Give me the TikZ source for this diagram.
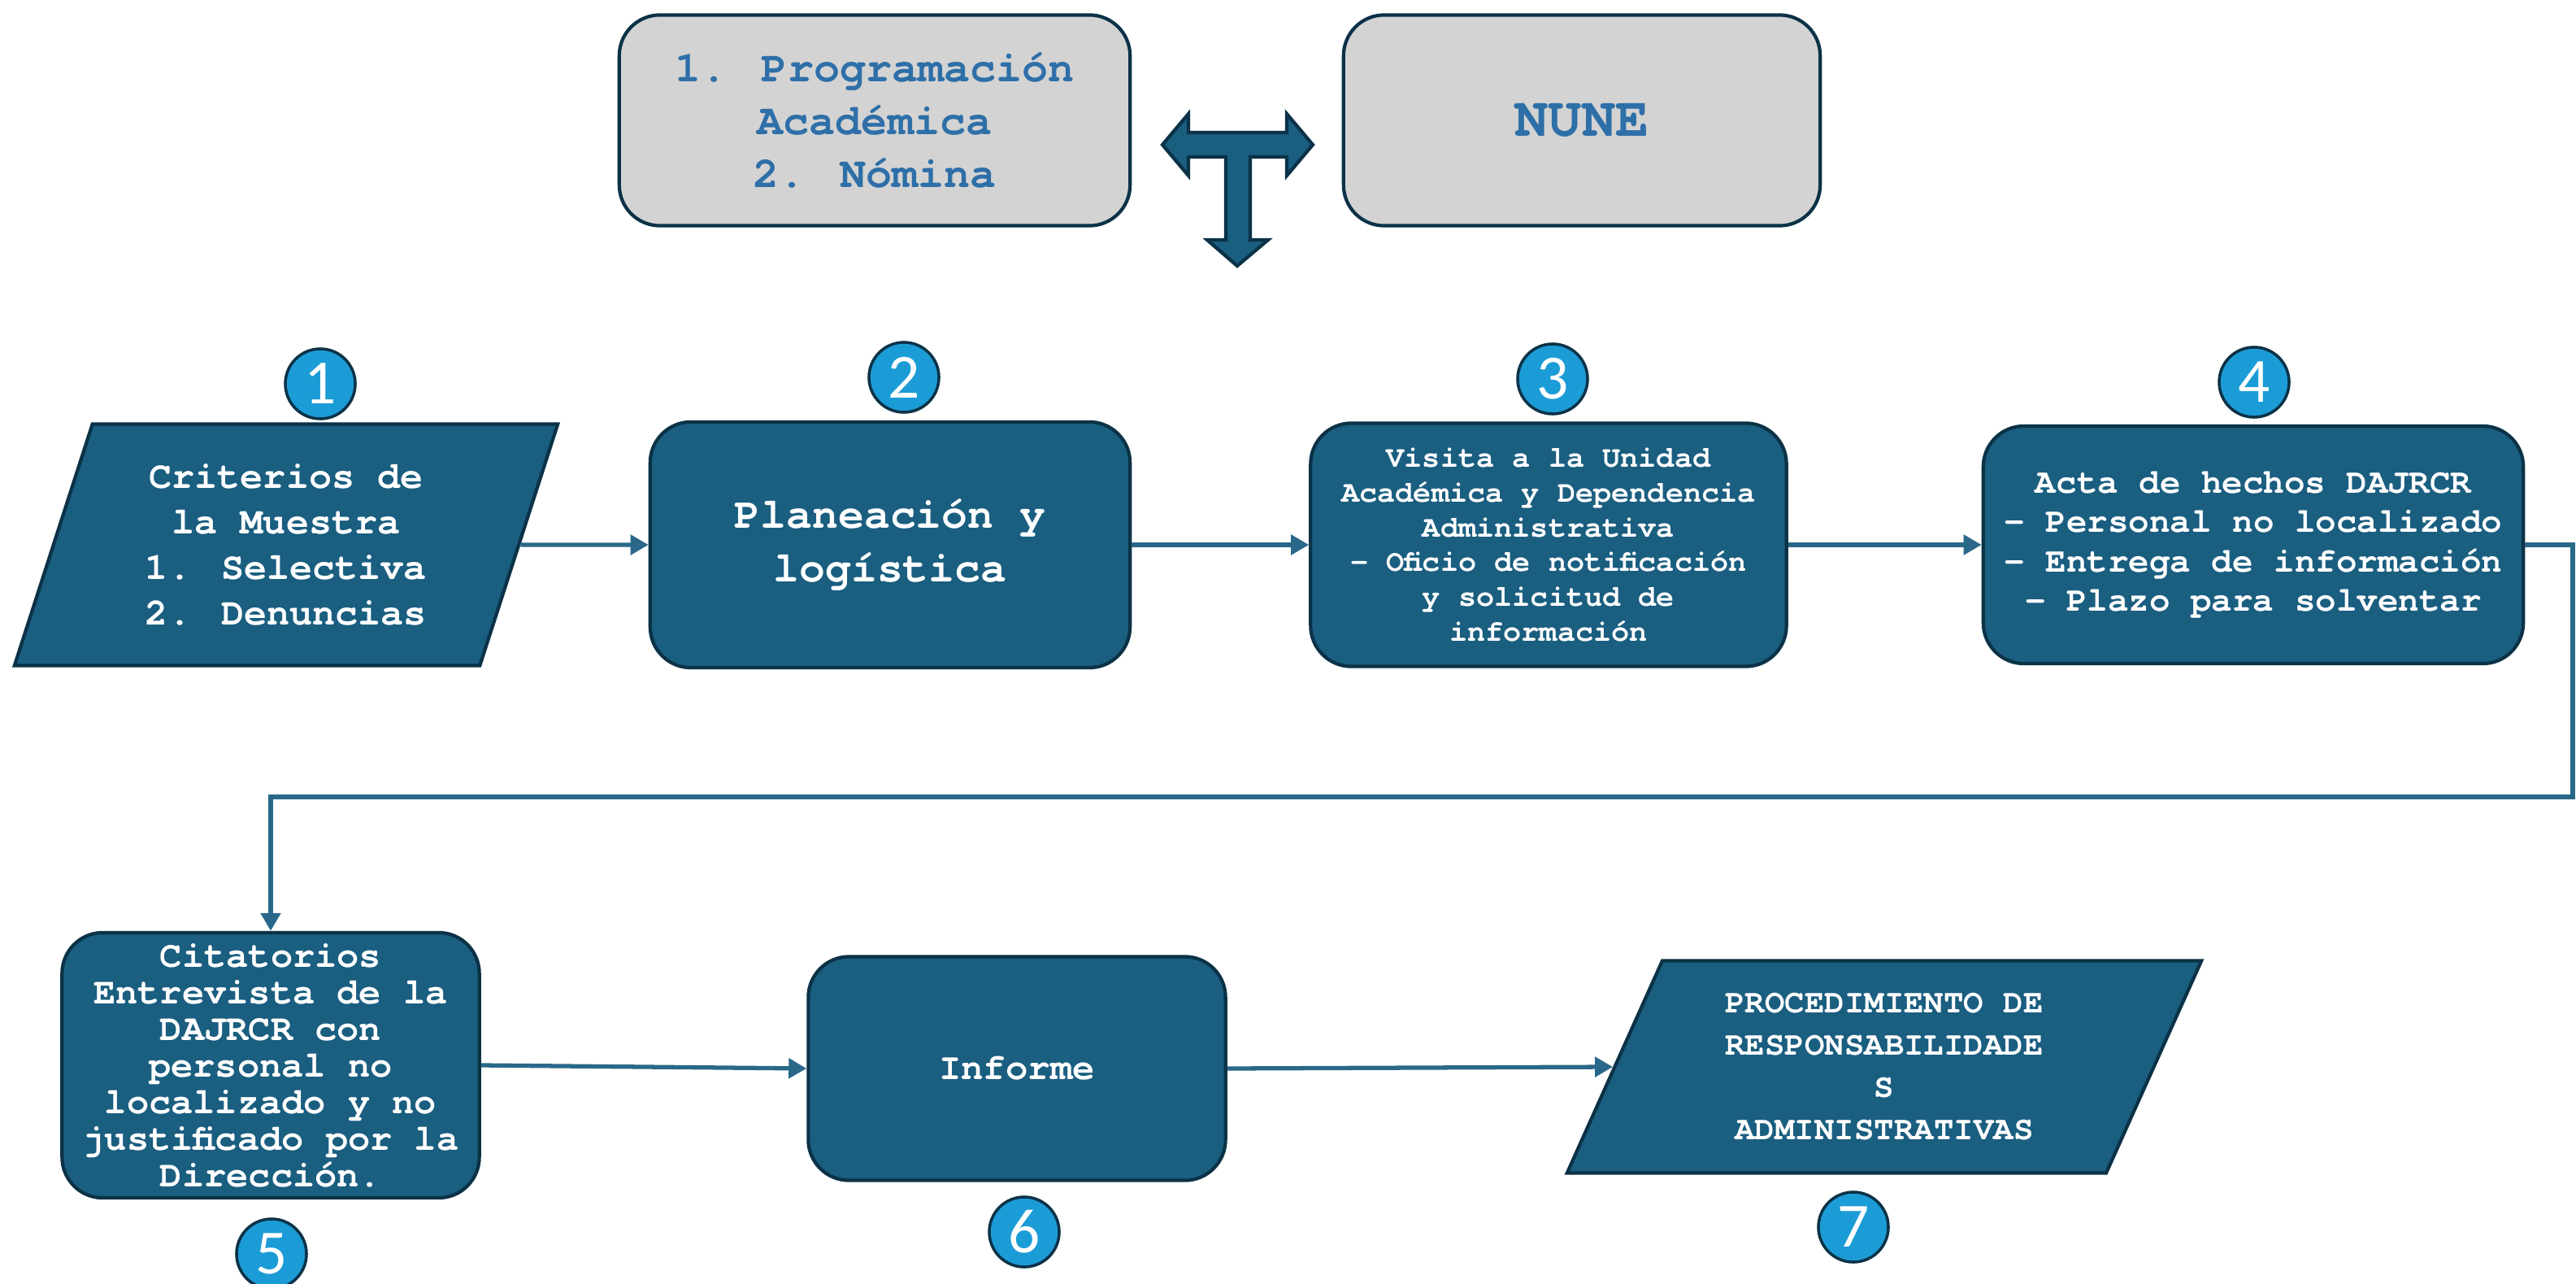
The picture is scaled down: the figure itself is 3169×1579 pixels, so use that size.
\documentclass[tikz,border=0pt]{standalone}
\usepackage{fontspec}
\usepackage{tikz}
\usetikzlibrary{shapes.geometric,arrows.meta}
\newfontfamily\codefont{texgyrecursor}[Extension=.otf,UprightFont=*-regular,BoldFont=*-bold]
\newfontfamily\digitfont{Carlito}
\newcommand{\fs}[2]{\fontsize{#1}{#2}\selectfont}
\definecolor{boxblue}{HTML}{1A5E80}
\definecolor{boxedge}{HTML}{0B3247}
\definecolor{boxgray}{HTML}{D3D3D3}
\definecolor{textblue}{HTML}{2E6FA8}
\definecolor{numblue}{HTML}{1C9CD6}
\definecolor{flowblue}{HTML}{2A6889}
\tikzset{ebox/.style={rectangle,rounded corners=0.5cm,draw=boxedge,line width=1.2pt,fill=boxblue,text=white,align=center,inner sep=2pt}}
\tikzset{egray/.style={ebox,fill=boxgray,text=textblue}}
\tikzset{edata/.style={trapezium,trapezium stretches body,draw=boxedge,line width=1.2pt,fill=boxblue,text=white,align=center,inner sep=2pt}}
\tikzset{enum/.style={circle,draw=boxedge,line width=1pt,fill=numblue,text=white,minimum size=0.86cm,inner sep=0pt,font=\digitfont\fs{22}{22}}}
\tikzset{eflow/.style={-{Triangle[length=0.22cm,width=0.24cm]},line width=1.5pt,draw=flowblue}}

\begin{document}
\begin{tikzpicture}[x=0.01cm,y=-0.01cm]
            \useasboundingbox (0,0) rectangle (3169,1579);
            % draw the sources on top
            \node[egray,minimum width=6.28cm,minimum height=2.59cm,font=\codefont\bfseries\fs{15.2}{18.4}] (prog) at (1076,148) {1. Programación\\Académica\\2. Nómina};
            \node[egray,minimum width=5.86cm,minimum height=2.59cm,font=\codefont\bfseries\fs{19.6}{22}] (nune) at (1946,148) {NUNE};
            % draw the T arrow
            \fill[boxblue,draw=boxedge,line width=1.2pt] (1430,178) -- (1462,140) -- (1462,163) -- (1583,163) -- (1583,140) -- (1615,178) -- (1583,216) -- (1583,193) -- (1538,193) -- (1538,295) -- (1560,295) -- (1522,327) -- (1485,295) -- (1508,295) -- (1508,193) -- (1462,193) -- (1462,216) -- cycle;

            % draw the first row
            \node[edata,trapezium left angle=65.7,trapezium right angle=114.3,minimum width=6.68cm,minimum height=2.97cm,font=\codefont\bfseries\fs{13.3}{15.9}] (crit) at (352,670) {Criterios de\\la Muestra\\1. Selectiva\\2. Denuncias};
            \node[ebox,minimum width=5.90cm,minimum height=3.02cm,font=\codefont\bfseries\fs{15.1}{18.5}] (plan) at (1095,670) {Planeación y\\logística};
            \node[ebox,minimum width=5.85cm,minimum height=2.99cm,font=\codefont\bfseries\fs{10.5}{12.2}] (visita) at (1905,670) {Visita a la Unidad\\Académica y Dependencia\\Administrativa\\- Oficio de notificación\\y solicitud de\\información};
            \node[ebox,minimum width=6.64cm,minimum height=2.92cm,font=\codefont\bfseries\fs{12.1}{13.8}] (acta) at (2772,670) {Acta de hechos DAJRCR\\- Personal no localizado\\- Entrega de información\\- Plazo para solventar};

            % draw the second row
            \node[ebox,minimum width=5.13cm,minimum height=3.26cm,inner sep=1pt,font=\codefont\bfseries\fs{12.9}{12.8}] (citat) at (333,1310) {Citatorios\\Entrevista de la\\DAJRCR con\\personal no\\localizado y no\\justificado por la\\Dirección.};
            \node[ebox,minimum width=5.13cm,minimum height=2.75cm,font=\codefont\bfseries\fs{13}{15}] (informe) at (1251,1314) {Informe};
            \node[edata,trapezium left angle=59,trapezium right angle=121,minimum width=7.80cm,minimum height=2.61cm,font=\codefont\bfseries\fs{11.6}{14.8}] (proced) at (2318,1312) {PROCEDIMIENTO DE\\RESPONSABILIDADE\\S\\ADMINISTRATIVAS};

            % draw the step numbers
            \node[enum] (n1) at (394,472) {1};
            \node[enum] (n2) at (1112,464) {2};
            \node[enum] (n3) at (1910,466) {3};
            \node[enum] (n4) at (2773,470) {4};
            \node[enum] (n5) at (334,1542) {5};
            \node[enum] (n6) at (1260,1515) {6};
            \node[enum] (n7) at (2280,1509) {7};

            % draw the flow
            \coordinate (loopR) at (3165,980);
            \draw[eflow] (crit.east) -- (plan.west);
            \draw[eflow] (plan.east) -- (visita.west);
            \draw[eflow] (visita.east) -- (acta.west);
            \draw[eflow] (acta.east) -| (loopR) -| (citat.north);
            \draw[eflow] (citat.east) -- (informe.west);
            \draw[eflow] (informe.east) -- (proced.west);
        \end{tikzpicture}
\end{document}
